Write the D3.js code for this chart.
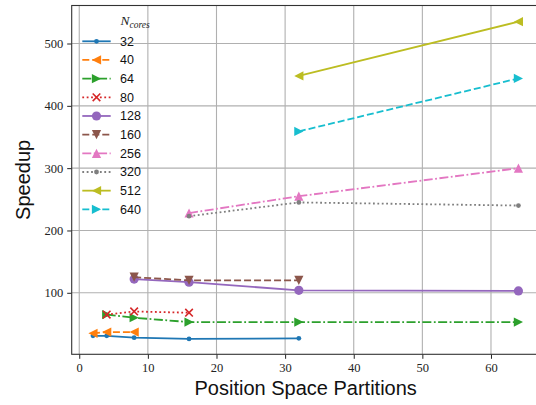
<!DOCTYPE html>
<html>
<head>
<meta charset="utf-8">
<script src="https://cdn.jsdelivr.net/npm/d3@7"></script>
<style>
  body { margin: 0; background: #fff; }
  svg { display: block; }
</style>
</head>
<body>
<svg id="chart" width="536" height="405"></svg>
<script>
// data
var coreCounts = [32, 40, 64, 80, 128, 160, 256, 320, 512, 640];

var x32 = [2, 4, 8, 16, 32],    y32 = [31, 31, 28, 26, 27];
var x40 = [2, 4, 8],            y40 = [35, 37, 37];
var x64 = [4, 8, 16, 32, 64],   y64 = [65, 60, 53, 53, 53];
var x80 = [4, 8, 16],           y80 = [65, 70, 68];
var x128 = [8, 16, 32, 64],     y128 = [122, 117, 104, 103];
var x160 = [8, 16, 32],         y160 = [125, 120, 120];
var x256 = [16, 32, 64],        y256 = [228, 255, 300];
var x320 = [16, 32, 64],        y320 = [223, 245, 240];
var x512 = [32, 64],            y512 = [448, 535];
var x640 = [32, 64],            y640 = [359, 444];

var xTicks = [0, 10, 20, 30, 40, 50, 60];
var yTicks = [100, 200, 300, 400, 500];

// styling per series
var colors = ["#1f77b4", "#ff7f0e", "#2ca02c", "#d62728", "#9467bd",
              "#8c564b", "#e377c2", "#7f7f7f", "#bcbd22", "#17becf"];
var markers = ["dot", "left", "right", "x", "circle", "down", "up", "dot", "left", "right"];
var dashes = ["solid", "dashed", "dashdot", "dotted", "solid", "dashed", "dashdot", "dotted", "solid", "dashed"];

var xsAll = [x32, x40, x64, x80, x128, x160, x256, x320, x512, x640];
var ysAll = [y32, y40, y64, y80, y128, y160, y256, y320, y512, y640];

var series = coreCounts.map(function(c, i) {
  return {
    name: c,
    color: colors[i],
    marker: markers[i],
    dash: dashes[i],
    points: xsAll[i].map(function(x, j) { return [x, ysAll[i][j]]; })
  };
});

var dashArray = {
  solid: null,
  dashed: "7,3",
  dashdot: "9,2.5,1.8,2.5",
  dotted: "1.8,2.6"
};

var svg = d3.select("#chart");

// plot area (right spine falls just outside the picture)
var pLeft = 71.7, pRight = 539.7, pTop = 5.5, pBottom = 354.3;

var x = d3.scaleLinear().domain([-1.1, 67.1]).range([pLeft, pRight]);
var y = d3.scaleLinear().domain([1.3, 561]).range([pBottom, pTop]);

// grid
svg.append("g").selectAll("line").data(xTicks).join("line")
  .attr("x1", function(d) { return x(d); }).attr("x2", function(d) { return x(d); })
  .attr("y1", pTop).attr("y2", pBottom)
  .attr("stroke", "#b0b0b0").attr("stroke-width", 1.1);
svg.append("g").selectAll("line").data(yTicks).join("line")
  .attr("y1", function(d) { return y(d); }).attr("y2", function(d) { return y(d); })
  .attr("x1", pLeft).attr("x2", pRight)
  .attr("stroke", "#b0b0b0").attr("stroke-width", 1.1);

// axes
var xAxis = svg.append("g")
  .attr("transform", "translate(0," + pBottom + ")")
  .call(d3.axisBottom(x).tickValues(xTicks).tickSize(4.5).tickPadding(4).tickSizeOuter(0));
var yAxis = svg.append("g")
  .attr("transform", "translate(" + pLeft + ",0)")
  .call(d3.axisLeft(y).tickValues(yTicks).tickSize(4.5).tickPadding(4).tickSizeOuter(0));

[xAxis, yAxis].forEach(function(a) {
  a.select(".domain").remove();
  a.selectAll("line").attr("stroke", "#222").attr("stroke-width", 1);
  a.selectAll("text")
    .attr("fill", "#222")
    .style("font-family", "'Liberation Serif', 'DejaVu Serif', serif")
    .style("font-size", "12.5px");
});

// frame
svg.append("rect")
  .attr("x", pLeft).attr("y", pTop)
  .attr("width", pRight - pLeft).attr("height", pBottom - pTop)
  .attr("fill", "none").attr("stroke", "#333").attr("stroke-width", 1.1);

// marker shapes
function markerPath(kind) {
  var r = 4.6;
  if (kind === "up") return "M0," + (-r) + "L" + r + "," + r + "L" + (-r) + "," + r + "Z";
  if (kind === "down") return "M0," + r + "L" + r + "," + (-r) + "L" + (-r) + "," + (-r) + "Z";
  if (kind === "left") return "M" + (-r) + ",0L" + r + "," + (-r) + "L" + r + "," + r + "Z";
  if (kind === "right") return "M" + r + ",0L" + (-r) + "," + (-r) + "L" + (-r) + "," + r + "Z";
  if (kind === "x") { var s = 3.8; return "M" + (-s) + "," + (-s) + "L" + s + "," + s + "M" + (-s) + "," + s + "L" + s + "," + (-s); }
  return null;
}

function drawMarker(g, kind, color, cx, cy) {
  if (kind === "circle" || kind === "dot") {
    g.append("circle")
      .attr("cx", cx).attr("cy", cy)
      .attr("r", kind === "circle" ? 4.6 : 2.4)
      .attr("fill", color);
  } else if (kind === "x") {
    g.append("path").attr("d", markerPath(kind))
      .attr("transform", "translate(" + cx + "," + cy + ")")
      .attr("fill", "none").attr("stroke", color).attr("stroke-width", 1.6);
  } else {
    g.append("path").attr("d", markerPath(kind))
      .attr("transform", "translate(" + cx + "," + cy + ")")
      .attr("fill", color);
  }
}

var line = d3.line()
  .x(function(d) { return x(d[0]); })
  .y(function(d) { return y(d[1]); });

var plot = svg.append("g");
series.forEach(function(s) {
  var g = plot.append("g");
  g.append("path")
    .attr("d", line(s.points))
    .attr("fill", "none")
    .attr("stroke", s.color)
    .attr("stroke-width", 1.8)
    .attr("stroke-dasharray", dashArray[s.dash]);
  s.points.forEach(function(p) {
    drawMarker(g, s.marker, s.color, x(p[0]), y(p[1]));
  });
});

// legend
var legend = svg.append("g");
var title = legend.append("text")
  .attr("x", 120.5).attr("y", 25)
  .style("font-family", "'Liberation Serif', 'DejaVu Serif', serif")
  .style("font-style", "italic")
  .attr("fill", "#222");
title.append("tspan").style("font-size", "13.5px").text("N");
title.append("tspan").style("font-size", "9.5px").attr("dy", 2.5).text("cores");

series.forEach(function(s, i) {
  var ly = 41.3 + i * 18.67;
  var g = legend.append("g");
  g.append("line")
    .attr("x1", 82.3).attr("x2", 110.7)
    .attr("y1", ly).attr("y2", ly)
    .attr("stroke", s.color).attr("stroke-width", 1.8)
    .attr("stroke-dasharray", dashArray[s.dash]);
  drawMarker(g, s.marker, s.color, 96.5, ly);
  g.append("text")
    .attr("x", 120).attr("y", ly + 4.3)
    .style("font-family", "'Liberation Sans', Arial, sans-serif")
    .style("font-size", "12.5px")
    .attr("fill", "#111")
    .text(s.name);
});

// axis titles
svg.append("text")
  .attr("x", (pLeft + pRight) / 2).attr("y", 395)
  .attr("text-anchor", "middle")
  .style("font-family", "'Liberation Sans', Arial, sans-serif")
  .style("font-size", "20px")
  .attr("fill", "#111")
  .text("Position Space Partitions");

svg.append("text")
  .attr("transform", "translate(30," + ((pTop + pBottom) / 2) + ") rotate(-90)")
  .attr("text-anchor", "middle")
  .style("font-family", "'Liberation Sans', Arial, sans-serif")
  .style("font-size", "20px")
  .attr("fill", "#111")
  .text("Speedup");
</script>
</body>
</html>
